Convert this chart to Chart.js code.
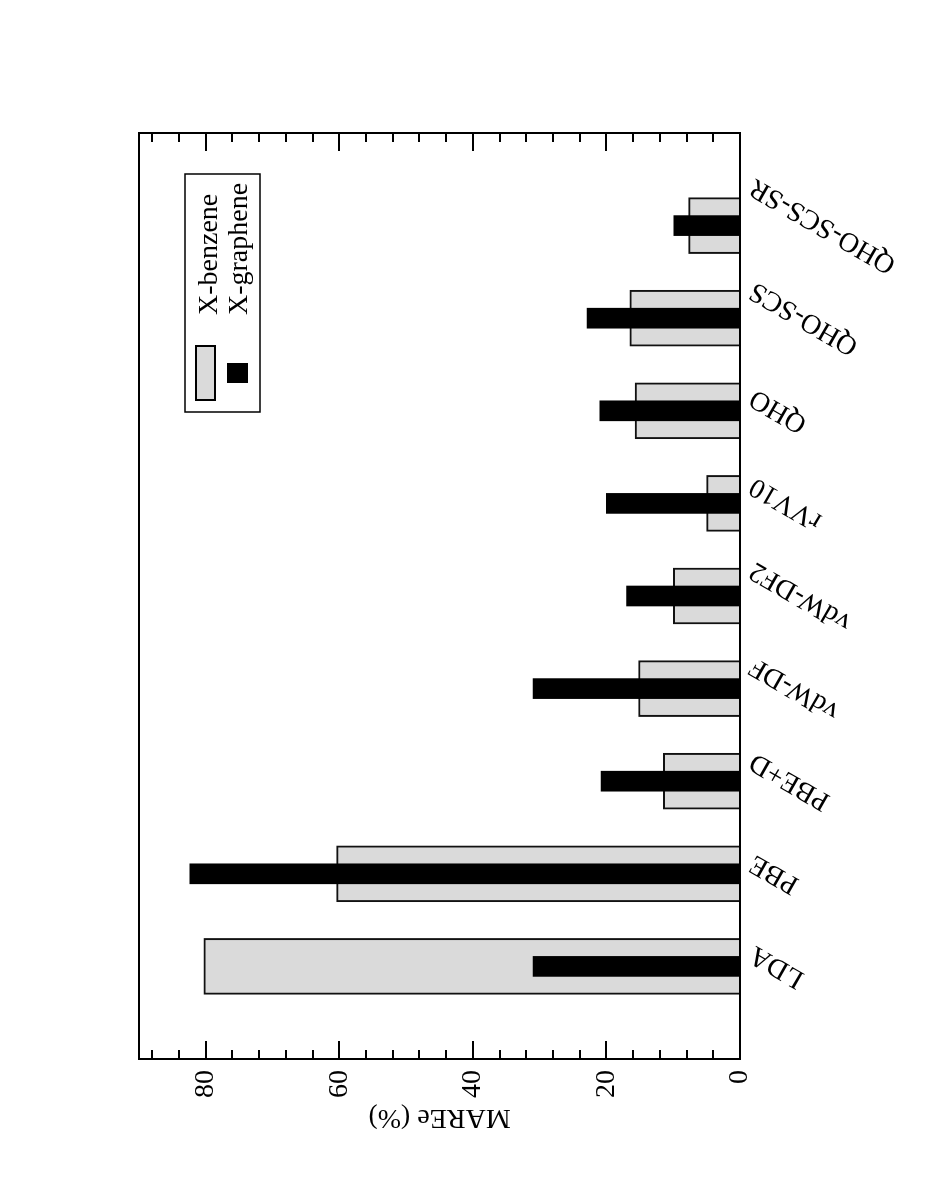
<!DOCTYPE html>
<html lang="en">
<head>
    <meta charset="UTF-8">
    <title>MAREe (%) - X-benzene / X-graphene</title>
    <script src="https://cdn.jsdelivr.net/npm/chart.js"></script>
    <style>
        html, body {
            margin: 0;
            padding: 0;
            background: #fff;
            overflow: hidden;
        }
        /* the figure is drawn upright, then turned a quarter turn like the printed page */
        .page {
            position: absolute;
            left: 0;
            top: 0;
            width: 1199px;
            height: 926px;
            transform-origin: 0 0;
            transform: translateY(1199px) rotate(-90deg);
        }
        canvas {
            display: block;
        }
    </style>
</head>
<body>
    <div class="page">
        <canvas id="mareChart" width="1199" height="926" style="width:1199px;height:926px"></canvas>
    </div>

    <script>
        // data
        const categories = ['LDA', 'PBE', 'PBE+D', 'vdW-DF', 'vdW-DF2', 'rVV10', 'QHO', 'QHO-SCS', 'QHO-SCS-SR'];
        const benzene = [80.3, 60.4, 11.5, 15.2, 10.0, 5.0, 15.7, 16.5, 7.7];
        const graphene = [31.0, 82.4, 20.8, 31.0, 17.0, 20.0, 21.0, 22.9, 9.9];
        const yTickValues = [0, 20, 40, 60, 80];
        const yTickLabels = ['0', '20', '40', '60', '80'];
        const yTitle = 'MAREe (%)';
        const yMax = 90;

        const FONT = '28px "Liberation Serif", "Times New Roman", serif';

        // one empty slot at each end, so the bars sit a full slot in from the frame
        const slotLabels = [''].concat(categories, ['']);
        const pad = arr => [null].concat(arr, [null]);

        const paperPlugin = {
            id: 'paper',
            afterDatasetsDraw(chart) {
                const ctx = chart.ctx;
                const a = chart.chartArea;
                const x = chart.scales.x;
                const y = chart.scales.y;

                ctx.save();
                ctx.strokeStyle = '#000';
                ctx.fillStyle = '#000';
                ctx.lineWidth = 2;

                // frame
                ctx.strokeRect(a.left, a.top, a.right - a.left, a.bottom - a.top);

                // inward ticks on both sides, minor every 4
                ctx.beginPath();
                for (let v = 0; v <= yMax; v += 4) {
                    const py = Math.round(y.getPixelForValue(v));
                    const len = v % 20 === 0 ? 18 : 9;
                    ctx.moveTo(a.left, py);
                    ctx.lineTo(a.left + len, py);
                    ctx.moveTo(a.right, py);
                    ctx.lineTo(a.right - len, py);
                }
                ctx.stroke();

                ctx.font = FONT;

                // value labels
                ctx.textAlign = 'right';
                ctx.textBaseline = 'middle';
                yTickValues.forEach((v, i) => {
                    ctx.fillText(yTickLabels[i], a.left - 11, y.getPixelForValue(v));
                });

                // axis title
                ctx.save();
                ctx.translate(89, (a.top + a.bottom) / 2);
                ctx.rotate(-Math.PI / 2);
                ctx.textAlign = 'center';
                ctx.textBaseline = 'alphabetic';
                ctx.fillText(yTitle, 0, 0);
                ctx.restore();

                // category labels, turned 60 degrees and centred under the bar
                const ang = Math.PI / 3;
                categories.forEach((c, i) => {
                    const px = x.getPixelForValue(i + 1);
                    const w = ctx.measureText(c).width;
                    ctx.save();
                    ctx.translate(px, a.bottom + 12 + (w / 2) * Math.sin(ang));
                    ctx.rotate(-ang);
                    ctx.textAlign = 'center';
                    ctx.textBaseline = 'middle';
                    ctx.fillText(c, 0, 0);
                    ctx.restore();
                });

                // legend box
                const ds = chart.data.datasets;
                ctx.lineWidth = 1.5;
                ctx.strokeRect(787, 185, 238, 75);

                ctx.fillStyle = ds[0].backgroundColor;
                ctx.fillRect(798, 195, 56, 21);
                ctx.lineWidth = 2;
                ctx.strokeRect(799, 196, 54, 19);

                ctx.fillStyle = ds[1].backgroundColor;
                ctx.fillRect(816, 227, 20, 21);

                ctx.fillStyle = '#000';
                ctx.textAlign = 'left';
                ctx.textBaseline = 'alphabetic';
                ctx.fillText(ds[0].label, 884, 217);
                ctx.fillText(ds[1].label, 884, 247);

                ctx.restore();
            }
        };

        const ctx = document.getElementById('mareChart').getContext('2d');
        const mareChart = new Chart(ctx, {
            type: 'bar',
            data: {
                labels: slotLabels,
                datasets: [
                    {
                        label: 'X-benzene',
                        data: pad(benzene),
                        backgroundColor: '#dadada',
                        borderColor: '#111',
                        borderWidth: 2,
                        barThickness: 56,
                        grouped: false,
                        order: 1
                    },
                    {
                        label: 'X-graphene',
                        data: pad(graphene),
                        backgroundColor: '#000',
                        borderWidth: 0,
                        barThickness: 20,
                        grouped: false,
                        order: 0
                    }
                ]
            },
            options: {
                responsive: false,
                animation: false,
                devicePixelRatio: 1,
                layout: {
                    padding: { left: 140, right: 133, top: 139, bottom: 186 }
                },
                scales: {
                    x: {
                        type: 'category',
                        offset: false,
                        display: false
                    },
                    y: {
                        min: 0,
                        max: yMax,
                        display: false
                    }
                },
                plugins: {
                    legend: { display: false },
                    tooltip: { enabled: false }
                }
            },
            plugins: [paperPlugin]
        });
    </script>
</body>
</html>
